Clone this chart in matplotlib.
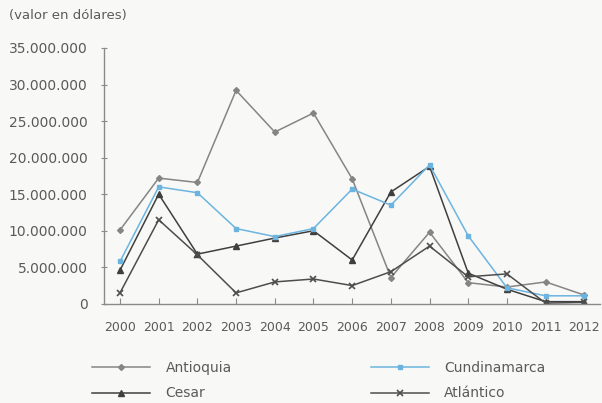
import matplotlib.pyplot as plt
from matplotlib.ticker import FuncFormatter

years = list(range(2000, 2013))
antioquia = [10.1e6, 17.2e6, 16.6e6, 29.2e6, 23.5e6, 26.1e6, 17.1e6, 3.6e6, 9.8e6, 2.9e6, 2.3e6, 3.0e6, 1.2e6]
cundinamarca = [5.8e6, 16.0e6, 15.2e6, 10.3e6, 9.2e6, 10.3e6, 15.7e6, 13.5e6, 19.0e6, 9.3e6, 2.2e6, 1.1e6, 1.1e6]
cesar = [4.6e6, 15.0e6, 6.8e6, 7.9e6, 9.0e6, 10.0e6, 6.0e6, 15.3e6, 18.8e6, 4.2e6, 2.0e6, 0.3e6, 0.3e6]
atlantico = [1.5e6, 11.5e6, 6.7e6, 1.5e6, 3.0e6, 3.4e6, 2.5e6, 4.4e6, 7.9e6, 3.7e6, 4.1e6, 0.1e6, 0.2e6]

plt.rcParams["font.family"] = ["DejaVu Sans"]
bg = "#f8f9f7"
txt = "#5a5a5a"

fig = plt.figure(figsize=(6.02, 4.03), dpi=100, facecolor=bg)
ax = fig.add_axes([0.173, 0.246, 0.824, 0.635], facecolor=bg)

l1, = ax.plot(years, antioquia, color="#858585", lw=1.1, marker="D", ms=3, label="Antioquia")
l2, = ax.plot(years, cesar, color="#3f3f3f", lw=1.1, marker="^", ms=4, label="Cesar")
l3, = ax.plot(years, cundinamarca, color="#6cb4df", lw=1.1, marker="s", ms=3.5, label="Cundinamarca")
l4, = ax.plot(years, atlantico, color="#4d4d4d", lw=1.1, marker="x", ms=4, mew=1.2, label="Atlántico")

ax.set_xlim(1999.59, 2012.41)
ax.set_ylim(0, 35e6)
ax.set_yticks([i * 5e6 for i in range(8)])
ax.set_xticks(years)
ax.yaxis.set_major_formatter(FuncFormatter(lambda v, p: f"{int(v):,}".replace(",", ".")))

for s in ["top", "right"]:
    ax.spines[s].set_visible(False)
for s in ["left", "bottom"]:
    ax.spines[s].set_color("#8a8a8a")
    ax.spines[s].set_linewidth(1.0)

ax.tick_params(axis="y", direction="inout", length=5, colors="#8a8a8a", labelcolor=txt, labelsize=10, pad=9.5)
ax.tick_params(axis="x", direction="in", length=4, colors="#8a8a8a", labelcolor=txt, labelsize=9, pad=12)

fig.text(0.015, 0.962, "(valor en dólares)", fontsize=9.5, color=txt, va="center")

fig.legend(handles=[l1, l2, l3, l4], loc="upper left", bbox_to_anchor=(0.153, 0.105),
           ncol=2, frameon=False, fontsize=10, labelcolor=txt, handlelength=4.2,
           columnspacing=10.0, labelspacing=0.85, handletextpad=1.08, borderaxespad=0,
           borderpad=0)

plt.savefig("out.png", dpi=100, facecolor=bg)
